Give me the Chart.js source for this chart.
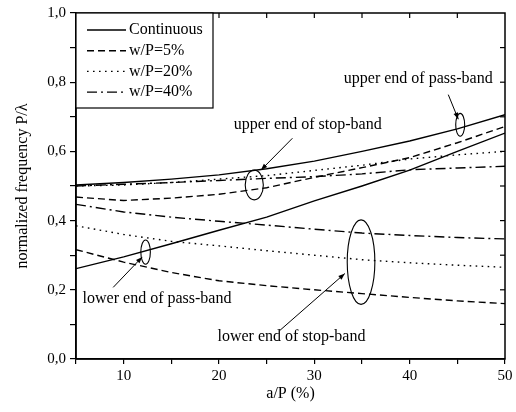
<!DOCTYPE html>
<html>
<head>
<meta charset="utf-8">
<script src="https://cdn.jsdelivr.net/npm/chart.js@4"></script>
<style>
  html, body { margin: 0; padding: 0; background: #fff; }
  #wrap { width: 516px; height: 412px; }
</style>
</head>
<body>
<div id="wrap"><canvas id="chart"></canvas></div>
<script>
// a/P (%) 값
const xVals = [5, 10, 15, 20, 25, 30, 35, 40, 45, 50];

// 각 곡선 (위쪽 / 아래쪽)
const contUpper = [0.503, 0.51, 0.52, 0.532, 0.55, 0.572, 0.60, 0.63, 0.665, 0.706];
const contLower = [0.261, 0.295, 0.333, 0.372, 0.41, 0.457, 0.50, 0.546, 0.60, 0.653];
const w5Upper = [0.468, 0.458, 0.465, 0.476, 0.495, 0.525, 0.553, 0.582, 0.625, 0.672];
const w5Lower = [0.316, 0.28, 0.25, 0.226, 0.212, 0.20, 0.189, 0.178, 0.168, 0.16];
const w20Upper = [0.50, 0.503, 0.51, 0.52, 0.53, 0.545, 0.56, 0.578, 0.59, 0.60];
const w20Lower = [0.385, 0.36, 0.34, 0.327, 0.313, 0.30, 0.287, 0.278, 0.271, 0.265];
const w40Upper = [0.50, 0.505, 0.51, 0.516, 0.522, 0.527, 0.535, 0.547, 0.552, 0.557];
const w40Lower = [0.447, 0.425, 0.41, 0.398, 0.387, 0.375, 0.364, 0.357, 0.351, 0.347];

const seriesNames = ["Continuous", "w/P=5%", "w/P=20%", "w/P=40%"];

// 주석 (데이터 좌표)
const ellipses = [
    { x: 23.7, y: 0.503, rx: 0.95, ry: 0.043 },
    { x: 45.3, y: 0.677, rx: 0.47, ry: 0.033 },
    { x: 12.3, y: 0.309, rx: 0.5, ry: 0.035 },
    { x: 34.9, y: 0.28, rx: 1.45, ry: 0.122 }
];
const arrows = [
    { x1: 27.7, y1: 0.638, x2: 24.4, y2: 0.546 },
    { x1: 44.05, y1: 0.764, x2: 45.1, y2: 0.693 },
    { x1: 8.9, y1: 0.207, x2: 11.95, y2: 0.295 },
    { x1: 26.4, y1: 0.083, x2: 33.2, y2: 0.247 }
];
const notes = [
    { text: "upper end of pass-band", x: 40.9, y: 0.81 },
    { text: "upper end of stop-band", x: 29.3, y: 0.678 },
    { text: "lower end of pass-band", x: 13.5, y: 0.175 },
    { text: "lower end of stop-band", x: 27.6, y: 0.063 }
];

const FONT = "'Liberation Serif', 'Times New Roman', serif";
const dashes = [[], [7, 4], [1.6, 4.4], [10, 4, 2, 4]];

// 위/아래 곡선을 끊어서 하나의 데이터셋으로
function branch(upper, lower) {
    var pts = [];
    xVals.forEach(function (x, i) { pts.push({ x: x, y: upper[i] }); });
    pts.push({ x: 50, y: null });
    xVals.forEach(function (x, i) { pts.push({ x: x, y: lower[i] }); });
    return pts;
}

const allData = [
    branch(contUpper, contLower),
    branch(w5Upper, w5Lower),
    branch(w20Upper, w20Lower),
    branch(w40Upper, w40Lower)
];

const datasets = allData.map(function (d, i) {
    return {
        label: seriesNames[i],
        data: d,
        borderColor: "#000",
        borderWidth: 1.4,
        borderDash: dashes[i],
        pointRadius: 0,
        fill: false,
        tension: 0,
        spanGaps: false
    };
});

// 테두리, 안쪽 눈금, 범례, 주석
const decorPlugin = {
    id: "decor",
    afterDraw: function (chart) {
        var ctx = chart.ctx;
        var a = chart.chartArea;
        var xs = chart.scales.x, ys = chart.scales.y;
        ctx.save();
        ctx.strokeStyle = "#000";
        ctx.lineWidth = 1.5;
        ctx.strokeRect(a.left, a.top, a.right - a.left, a.bottom - a.top);

        // 위/오른쪽 안쪽 눈금
        ctx.lineWidth = 1.2;
        for (var v = 10; v <= 45; v += 5) {
            var px = xs.getPixelForValue(v);
            ctx.beginPath(); ctx.moveTo(px, a.top); ctx.lineTo(px, a.top + 5); ctx.stroke();
        }
        for (var k = 1; k < 10; k++) {
            var py = ys.getPixelForValue(k / 10);
            ctx.beginPath(); ctx.moveTo(a.right, py); ctx.lineTo(a.right - 5, py); ctx.stroke();
        }

        // 범례
        var lx = a.left, ly = a.top, lw = 137, lh = 95;
        ctx.fillStyle = "#fff";
        ctx.fillRect(lx, ly, lw, lh);
        ctx.lineWidth = 1.2;
        ctx.strokeRect(lx, ly, lw, lh);
        ctx.font = "16px " + FONT;
        ctx.fillStyle = "#000";
        ctx.textBaseline = "middle";
        ctx.textAlign = "left";
        seriesNames.forEach(function (name, i) {
            var yy = ly + 17 + i * 20.7;
            ctx.setLineDash(dashes[i]);
            ctx.lineWidth = 1.4;
            ctx.beginPath(); ctx.moveTo(lx + 11, yy); ctx.lineTo(lx + 50, yy); ctx.stroke();
            ctx.setLineDash([]);
            ctx.fillText(name, lx + 53, yy);
        });

        // 타원
        ctx.lineWidth = 1.1;
        ellipses.forEach(function (e) {
            var cx = xs.getPixelForValue(e.x), cy = ys.getPixelForValue(e.y);
            var rx = Math.abs(xs.getPixelForValue(e.x + e.rx) - cx);
            var ry = Math.abs(ys.getPixelForValue(e.y + e.ry) - cy);
            ctx.beginPath(); ctx.ellipse(cx, cy, rx, ry, 0, 0, Math.PI * 2); ctx.stroke();
        });

        // 화살표
        ctx.lineWidth = 1;
        arrows.forEach(function (r) {
            var x1 = xs.getPixelForValue(r.x1), y1 = ys.getPixelForValue(r.y1);
            var x2 = xs.getPixelForValue(r.x2), y2 = ys.getPixelForValue(r.y2);
            ctx.beginPath(); ctx.moveTo(x1, y1); ctx.lineTo(x2, y2); ctx.stroke();
            var ang = Math.atan2(y2 - y1, x2 - x1);
            ctx.beginPath();
            ctx.moveTo(x2, y2);
            ctx.lineTo(x2 - 7 * Math.cos(ang - 0.35), y2 - 7 * Math.sin(ang - 0.35));
            ctx.lineTo(x2 - 7 * Math.cos(ang + 0.35), y2 - 7 * Math.sin(ang + 0.35));
            ctx.closePath(); ctx.fill();
        });

        // 글자
        ctx.textAlign = "center";
        notes.forEach(function (n) {
            ctx.fillText(n.text, xs.getPixelForValue(n.x), ys.getPixelForValue(n.y));
        });
        ctx.restore();
    }
};

new Chart(document.getElementById("chart"), {
    type: "line",
    data: { datasets: datasets },
    plugins: [decorPlugin],
    options: {
        responsive: true,
        maintainAspectRatio: false,
        animation: false,
        layout: { padding: { top: 11, right: 11, left: 0, bottom: 0 } },
        plugins: { legend: { display: false }, tooltip: { enabled: false } },
        scales: {
            x: {
                type: "linear",
                min: 5,
                max: 50,
                afterFit: function (s) { s.height = 53; },
                border: { display: true, color: "#000", width: 1.5 },
                grid: { drawOnChartArea: false, drawTicks: true, tickLength: 5, color: "#000", lineWidth: 1.2 },
                ticks: {
                    stepSize: 5,
                    autoSkip: false,
                    maxRotation: 0,
                    color: "#000",
                    padding: 3,
                    font: { family: FONT, size: 15 },
                    callback: function (v) { return v % 10 === 0 ? String(v) : ""; }
                },
                title: {
                    display: true,
                    text: "a/P (%)",
                    color: "#000",
                    font: { family: FONT, size: 16 },
                    padding: { top: 0, bottom: 9 }
                }
            },
            y: {
                min: 0,
                max: 1,
                afterFit: function (s) { s.width = 76; },
                border: { display: true, color: "#000", width: 1.5 },
                grid: { drawOnChartArea: false, drawTicks: true, tickLength: 6, color: "#000", lineWidth: 1.2 },
                ticks: {
                    stepSize: 0.1,
                    autoSkip: false,
                    color: "#000",
                    padding: 4,
                    font: { family: FONT, size: 15 },
                    callback: function (v) {
                        var r = Math.round(v * 10);
                        return r % 2 === 0 ? (r / 10).toFixed(1).replace(".", ",") : "";
                    }
                },
                title: {
                    display: true,
                    text: "normalized frequency P/λ",
                    color: "#000",
                    font: { family: FONT, size: 16 },
                    padding: { top: 13, bottom: 0 }
                }
            }
        }
    }
});
</script>
</body>
</html>
